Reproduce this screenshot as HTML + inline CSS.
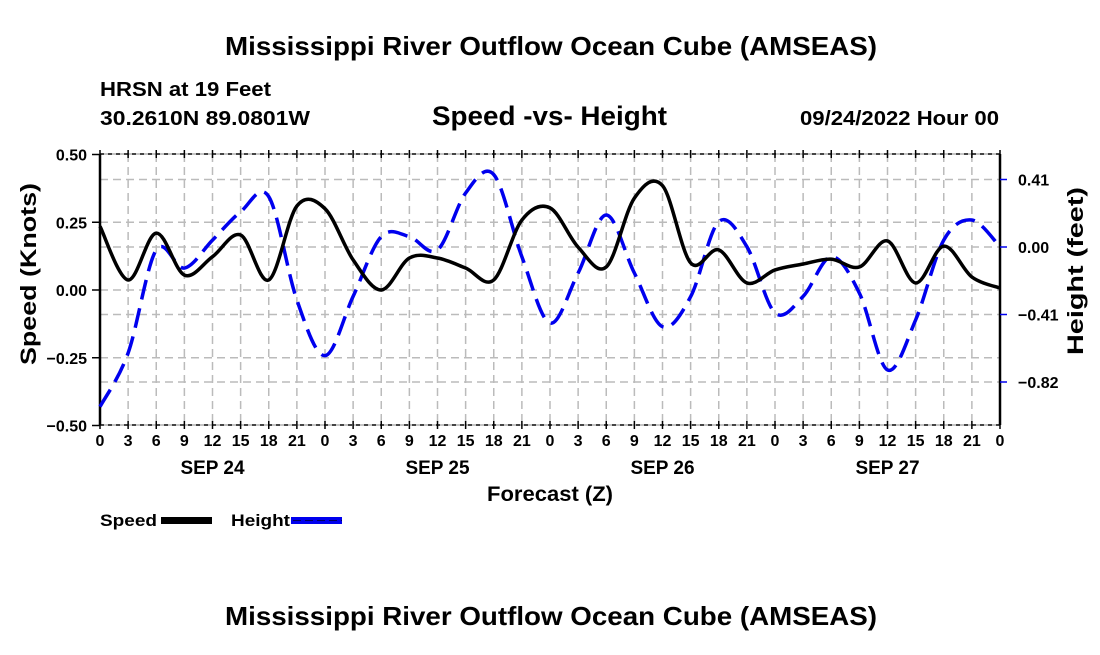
<!DOCTYPE html>
<html><head><meta charset="utf-8"><style>
body{margin:0;background:#fff;width:1100px;height:650px;overflow:hidden}
svg text{font-family:"Liberation Sans",Arial,sans-serif;font-weight:bold;fill:#000}
</style></head><body>
<svg id="chart" width="1100" height="650" viewBox="0 0 1100 650">
<text x="225" y="55" font-size="26" textLength="652" lengthAdjust="spacingAndGlyphs">Mississippi River Outflow Ocean Cube (AMSEAS)</text>
<text x="100" y="96" font-size="20" textLength="171" lengthAdjust="spacingAndGlyphs">HRSN at 19 Feet</text>
<text x="100" y="125" font-size="20" textLength="210" lengthAdjust="spacingAndGlyphs">30.2610N  89.0801W</text>
<text x="432" y="125" font-size="27" textLength="235" lengthAdjust="spacingAndGlyphs">Speed -vs- Height</text>
<text x="800" y="125" font-size="20" textLength="199" lengthAdjust="spacingAndGlyphs">09/24/2022 Hour 00</text>
<g id="grid"></g>
<g id="axes"></g>
<g id="series"></g>
<text transform="translate(36,365) rotate(-90)" font-size="22" textLength="182" lengthAdjust="spacingAndGlyphs">Speed (Knots)</text>
<text transform="translate(1083,355) rotate(-90)" font-size="22" textLength="168" lengthAdjust="spacingAndGlyphs">Height (feet)</text>
<text x="487" y="501" font-size="21" textLength="126" lengthAdjust="spacingAndGlyphs">Forecast (Z)</text>
<g>
<text x="100" y="526" font-size="17" textLength="57" lengthAdjust="spacingAndGlyphs">Speed</text>
<rect x="161" y="517" width="51" height="7" fill="#000"/>
<text x="231" y="526" font-size="17" textLength="59" lengthAdjust="spacingAndGlyphs">Height</text>
<rect x="291" y="517" width="51" height="7" fill="#0000ee"/>
<line x1="293" y1="520.5" x2="342" y2="520.5" stroke="#000060" stroke-width="1" stroke-dasharray="8,4"/>
</g>
<text x="225" y="625" font-size="26" textLength="652" lengthAdjust="spacingAndGlyphs">Mississippi River Outflow Ocean Cube (AMSEAS)</text>
</svg>
<script>
const hours=[0,3,6,9,12,15,18,21,24,27,30,33,36,39,42,45,48,51,54,57,60,63,66,69,72,75,78,81,84,87,90,93,96];
const speedValues=[0.235,0.037,0.21,0.055,0.123,0.203,0.037,0.31,0.30,0.111,0.0,0.118,0.118,0.081,0.037,0.258,0.303,0.158,0.085,0.339,0.385,0.100,0.148,0.026,0.074,0.096,0.114,0.085,0.181,0.026,0.162,0.048,0.007];
const heightValues=[-0.97,-0.644,-0.018,-0.128,0.042,0.214,0.306,-0.322,-0.66,-0.30,0.063,0.063,-0.018,0.328,0.44,-0.059,-0.462,-0.158,0.194,-0.158,-0.484,-0.302,0.154,0.002,-0.40,-0.30,-0.059,-0.28,-0.747,-0.443,0.042,0.164,0.002];
const xTickLabels=["0","3","6","9","12","15","18","21"];
const dayLabels=["SEP 24","SEP 25","SEP 26","SEP 27"];
const speedTicks=[0.5,0.25,0,-0.25,-0.5];
const heightTicks=[0.41,0,-0.41,-0.82];
const L=100,R=1000,T=154,B=425;
const xS=h=>L+(h/96)*(R-L);
const yS=v=>290-v*271;
const yH=v=>247-v*(67.5/0.41);
const NS="http://www.w3.org/2000/svg";
function mk(tag,attrs,parent){const e=document.createElementNS(NS,tag);for(const k in attrs)e.setAttribute(k,attrs[k]);parent.appendChild(e);return e;}
const grid=document.getElementById('grid'),axes=document.getElementById('axes'),series=document.getElementById('series');
for(let h=3;h<96;h+=3){const g=mk('line',{x1:xS(h),x2:xS(h),y1:T,y2:B,stroke:'#bbb','stroke-width':1.5,'stroke-dasharray':'8,5'},grid);

}
speedTicks.forEach(v=>{if(v===0.5||v===-0.5)return;const g=mk('line',{x1:L,x2:R,y1:yS(v),y2:yS(v),stroke:'#bbb','stroke-width':1.5,'stroke-dasharray':'8,5'},grid);

});
heightTicks.forEach(v=>{const g=mk('line',{x1:L,x2:R,y1:yH(v),y2:yH(v),stroke:'#bbb','stroke-width':1.5,'stroke-dasharray':'8,5'},grid);

});
[[L,T,R,T],[L,B,R,B]].forEach(c=>{mk('line',{x1:c[0],y1:c[1],x2:c[2],y2:c[3],stroke:'#000','stroke-width':2,'stroke-dasharray':'4,4'},axes);mk('line',{x1:c[0],y1:c[1],x2:c[2],y2:c[3],stroke:'#888','stroke-width':1},axes);});
mk('line',{x1:L,y1:T,x2:L,y2:B,stroke:'#000','stroke-width':2.5},axes);
mk('line',{x1:R,y1:T,x2:R,y2:B,stroke:'#000','stroke-width':2.5},axes);
for(let h=0;h<=96;h+=3){const x=xS(h);
mk('line',{x1:x,x2:x,y1:T-4,y2:T+4,stroke:'#000','stroke-width':1.5},axes);
mk('line',{x1:x,x2:x,y1:B-4,y2:B+4,stroke:'#000','stroke-width':1.5},axes);
const t=mk('text',{x:x,y:446,'font-size':16,'text-anchor':'middle'},axes);t.textContent=xTickLabels[(h/3)%8];

}
dayLabels.forEach((d,i)=>{const t=mk('text',{x:xS(12+24*i),y:474,'font-size':19,'text-anchor':'middle'},axes);t.textContent=d;

});
speedTicks.forEach(v=>{const y=yS(v);mk('line',{x1:L-8,x2:L,y1:y,y2:y,stroke:'#000','stroke-width':1.5},axes);
const t=mk('text',{x:87,y:y+6,'font-size':16,'text-anchor':'end'},axes);t.textContent=(v<0?'\u2212':'')+Math.abs(v).toFixed(2);

});
heightTicks.forEach(v=>{const y=yH(v);mk('line',{x1:R,x2:R+7,y1:y,y2:y,stroke:'#0000ee','stroke-width':1.5},axes);
const t=mk('text',{x:1018,y:y+6,'font-size':16},axes);t.textContent=(v<0?'\u2212':'')+Math.abs(v).toFixed(2);

});
function smooth(pts){let d='M'+pts[0][0]+','+pts[0][1];for(let i=0;i<pts.length-1;i++){const p0=pts[Math.max(0,i-1)],p1=pts[i],p2=pts[i+1],p3=pts[Math.min(pts.length-1,i+2)];
d+=' C'+(p1[0]+(p2[0]-p0[0])/6)+','+(p1[1]+(p2[1]-p0[1])/6)+' '+(p2[0]-(p3[0]-p1[0])/6)+','+(p2[1]-(p3[1]-p1[1])/6)+' '+p2[0]+','+p2[1];}return d;}
const hp=mk('path',{d:smooth(hours.map((h,i)=>[xS(h),yH(heightValues[i])])),fill:'none',stroke:'#0000ee','stroke-width':3.5,'stroke-dasharray':'20,9'},series);


const sp=mk('path',{d:smooth(hours.map((h,i)=>[xS(h),yS(speedValues[i])])),fill:'none',stroke:'#000','stroke-width':3.5},series);


</script>
</body></html>
